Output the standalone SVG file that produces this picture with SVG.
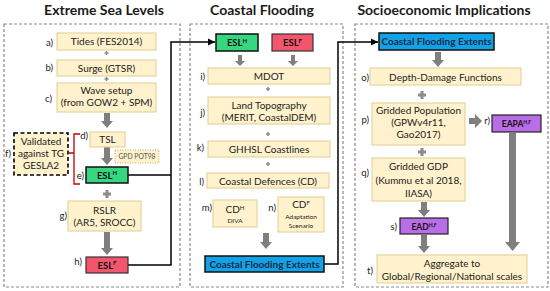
<svg xmlns="http://www.w3.org/2000/svg" width="550" height="291" viewBox="0 0 550 291">
<defs>
<style>
.panel{fill:none;stroke:#8a8a8a;stroke-width:1.2;stroke-dasharray:3 2}
.title{font-family:Lato,"Liberation Sans",sans-serif;font-weight:bold;font-size:14px;fill:#1a1a1a;text-anchor:middle}
.box{fill:#fff2cc;stroke:#e3cc92;stroke-width:1}
.t{font-family:Lato,"Liberation Sans",sans-serif;font-size:10px;fill:#222;text-anchor:middle}
.lbl{font-family:Lato,"Liberation Sans",sans-serif;font-size:9.5px;fill:#222;text-anchor:end}
.sm{font-family:Lato,"Liberation Sans",sans-serif;font-size:6.5px;fill:#222;text-anchor:middle}
.b{font-family:Lato,"Liberation Sans",sans-serif;font-weight:bold;font-size:9.5px;fill:#111;text-anchor:middle}
.green{fill:#36d780;stroke:#111;stroke-width:1.5}
.red{fill:#f2566d;stroke:#333;stroke-width:1.2}
.blue{fill:#12a3e6;stroke:#111;stroke-width:1.5}
.purple{fill:#b96de6;stroke:#222;stroke-width:1.2}
.ga{fill:#7f7f7f}
.plus{stroke:#8c8c8c;fill:none}
.conn{fill:none;stroke:#000;stroke-width:1.5}
</style>
<marker id="ah" markerUnits="userSpaceOnUse" markerWidth="8" markerHeight="8" refX="7" refY="4" orient="auto">
<path d="M0,0.5 L7,4 L0,7.5 Z" fill="#000"/>
</marker>
</defs>
<rect width="550" height="291" fill="#fff"/>

<!-- titles and panels -->
<text class="title" x="104" y="15">Extreme Sea Levels</text>
<text class="title" x="262" y="15">Coastal Flooding</text>
<text class="title" x="444" y="15">Socioeconomic Implications</text>
<rect class="panel" x="4" y="24" width="176" height="263"/>
<rect class="panel" x="190" y="24" width="153" height="263"/>
<rect class="panel" x="355" y="24" width="193" height="263"/>

<!-- connectors -->
<g id="connectors">
<path class="conn" d="M128,175 H171"/>
<path class="conn" d="M128,265 H171 V42 H215" marker-end="url(#ah)"/>
<path class="conn" d="M324,264 H338 V42 H378" marker-end="url(#ah)"/>
<path d="M80,134 H74 V184 H80 M74,153 H69" fill="none" stroke="#c00000" stroke-width="1.3"/>
<!-- grey block arrows -->
<path class="ga" d="M104,113 H110 V121 H113 L107,128 L101,121 H104 Z"/>
<path class="ga" d="M104,147 H110 V158 H113 L107,165 L101,158 H104 Z"/>
<path class="ga" d="M104,232 H110 V248 H113 L107,255 L101,248 H104 Z"/>
<path class="ga" d="M238,55 H242 V61 H245 L240,66 L235,61 H238 Z"/>
<path class="ga" d="M291,55 H295 V61 H298 L293,66 L288,61 H291 Z"/>
<path class="ga" d="M263,233 H269 V242 H272 L266,249 L260,242 H263 Z"/>
<path class="ga" d="M435,52 H441 V60 H444 L438,67 L432,60 H435 Z"/>
<path class="ga" d="M469,118 H475 V114 L482,121 L475,128 V124 H469 Z"/>
<path class="ga" d="M509,133 H516 V242 H520 L512.5,251 L505,242 H509 Z"/>
<path class="ga" d="M421,202 H427 V210 H430 L424,217 L418,210 H421 Z"/>
<path class="ga" d="M421,235 H427 V246 H430 L424,253 L418,246 H421 Z"/>
<!-- plus signs -->
<path class="plus" stroke-width="1.5" d="M104.5,53 H108.5 M106.5,51 V55"/>
<path class="plus" stroke-width="1.5" d="M104.5,79 H108.5 M106.5,77 V81"/>
<path class="plus" stroke-width="3" d="M103,194 H111 M107,190 V198"/>
<path class="plus" stroke-width="1.5" d="M266,89 H270 M268,87 V91"/>
<path class="plus" stroke-width="1.5" d="M266,134 H270 M268,132 V136"/>
<path class="plus" stroke-width="1.5" d="M266,164 H270 M268,162 V166"/>
<path class="plus" stroke-width="3" d="M418,95 H426 M422,91 V99"/>
<path class="plus" stroke-width="3" d="M418,152 H426 M422,148 V156"/>
</g>

<!-- Extreme Sea Levels -->
<g id="a"><text class="lbl" x="53" y="46">a)</text><rect class="box" x="57" y="33" width="99" height="17"/><text class="t" x="106.5" y="45">Tides (FES2014)</text></g>
<g id="b"><text class="lbl" x="53" y="71">b)</text><rect class="box" x="57" y="60" width="99" height="16"/><text class="t" x="106.5" y="71.5">Surge (GTSR)</text></g>
<g id="c"><text class="lbl" x="52" y="102">c)</text><rect class="box" x="57" y="83" width="99" height="29"/><text class="t" x="106.5" y="94">Wave setup</text><text class="t" x="106.5" y="106">(from GOW2 + SPM)</text></g>
<g id="d"><text class="lbl" x="88" y="139">d)</text><rect class="box" x="90" y="132" width="35" height="15"/><text class="t" x="107.5" y="143">TSL</text></g>
<g id="gpd"><rect x="115" y="150" width="44" height="13" fill="#fff2cc" stroke="#c9a66b" stroke-width="1" stroke-dasharray="1 1.5"/><text class="sm" x="137" y="158.8" style="font-size:6.8px;fill:#555">GPD POT98</text></g>
<g id="e"><rect class="green" x="86" y="167" width="42" height="16"/><text class="lbl" x="84" y="178.5">e)</text><text class="b" x="107" y="178.5">ESL<tspan dy="-3.5" font-size="6">H</tspan></text></g>
<g id="f"><text class="lbl" x="11" y="156.5">f)</text><rect x="14" y="133" width="54" height="42" fill="#fff2cc" stroke="#000" stroke-width="1.6" stroke-dasharray="4 2.5"/><text class="t" x="41" y="144.5">Validated</text><text class="t" x="41" y="156.5">against TG</text><text class="t" x="41" y="169">GESLA2</text></g>
<g id="g"><text class="lbl" x="67" y="219">g)</text><rect class="box" x="68" y="201" width="73" height="30"/><text class="t" x="104.5" y="213.5">RSLR</text><text class="t" x="104.5" y="225.5">(AR5, SROCC)</text></g>
<g id="h"><text class="lbl" x="82" y="265">h)</text><rect class="red" x="86" y="257" width="42" height="16"/><text class="b" x="107" y="268.5">ESL<tspan dy="-3.5" font-size="6">F</tspan></text></g>

<!-- Coastal Flooding -->
<g id="eslh2"><rect class="green" x="216" y="34" width="42" height="17"/><text class="b" x="237" y="46">ESL<tspan dy="-3.5" font-size="6">H</tspan></text></g>
<g id="eslf2"><rect class="red" x="272" y="34" width="41" height="17"/><text class="b" x="292.5" y="46">ESL<tspan dy="-3.5" font-size="6">F</tspan></text></g>
<g id="i"><text class="lbl" x="205" y="79.5">i)</text><rect class="box" x="208" y="68" width="122" height="16"/><text class="t" x="269" y="79.5">MDOT</text></g>
<g id="j"><text class="lbl" x="205" y="116">j)</text><rect class="box" x="208" y="97" width="122" height="27"/><text class="t" x="269" y="108.5">Land Topography</text><text class="t" x="269" y="121">(MERIT, CoastalDEM)</text></g>
<g id="k"><text class="lbl" x="204" y="151">k)</text><rect class="box" x="208" y="141" width="122" height="16"/><text class="t" x="269" y="152.5">GHHSL Coastlines</text></g>
<g id="l"><text class="lbl" x="204" y="185">l)</text><rect class="box" x="207" y="173" width="122" height="15"/><text class="t" x="268" y="184.5">Coastal Defences (CD)</text></g>
<g id="m"><text class="lbl" x="212" y="211">m)</text><rect class="box" x="213" y="200" width="44" height="27"/><text class="t" x="235" y="213">CD<tspan dy="-3.5" font-size="6">H</tspan></text><text class="sm" x="235" y="223">DIVA</text></g>
<g id="n"><text class="lbl" x="276" y="211">n)</text><rect class="box" x="278" y="197" width="46" height="35"/><text class="t" x="301" y="208">CD<tspan dy="-3.5" font-size="6">F</tspan></text><text class="sm" x="301" y="219">Adaptation</text><text class="sm" x="301" y="228">Scenario</text></g>
<g id="cfe1"><rect class="blue" x="205" y="256" width="119" height="16"/><text class="b" x="264.5" y="267.5" style="font-size:10px;fill:#1b2a48">Coastal Flooding Extents</text></g>

<!-- Socioeconomic Implications -->
<g id="cfe2"><rect class="blue" x="379" y="33" width="115" height="17"/><text class="b" x="436.5" y="45" style="font-size:10px;fill:#1b2a48">Coastal Flooding Extents</text></g>
<g id="o"><text class="lbl" x="369" y="80.5">o)</text><rect class="box" x="370" y="68" width="151" height="17"/><text class="t" x="445.5" y="80.5">Depth-Damage Functions</text></g>
<g id="p"><text class="lbl" x="369" y="123">p)</text><rect class="box" x="372" y="103" width="93" height="42"/><text class="t" x="418.5" y="113.5">Gridded Population</text><text class="t" x="418.5" y="125.5">(GPWv4r11,</text><text class="t" x="418.5" y="137.5">Gao2017)</text></g>
<g id="r"><text class="lbl" x="490" y="124">r)</text><rect class="purple" x="492" y="115" width="49" height="17"/><text class="b" x="516.5" y="126.5" style="font-size:8.5px">EAPA<tspan dy="-3" font-size="5">H,F</tspan></text></g>
<g id="q"><text class="lbl" x="369" y="176">q)</text><rect class="box" x="372" y="158" width="93" height="43"/><text class="t" x="418.5" y="170">Gridded GDP</text><text class="t" x="418.5" y="184">(Kummu et al 2018,</text><text class="t" x="418.5" y="197">IIASA)</text></g>
<g id="s"><text class="lbl" x="397" y="230">s)</text><rect class="purple" x="400" y="218" width="48" height="16"/><text class="b" x="424" y="229.5" style="font-size:8.5px">EAD<tspan dy="-3" font-size="5">H,F</tspan></text></g>
<g id="t"><text class="lbl" x="373" y="274">t)</text><rect class="box" x="377" y="255" width="150" height="28"/><text class="t" x="452" y="266.5">Aggregate to</text><text class="t" x="452" y="280">Global/Regional/National scales</text></g>
</svg>
